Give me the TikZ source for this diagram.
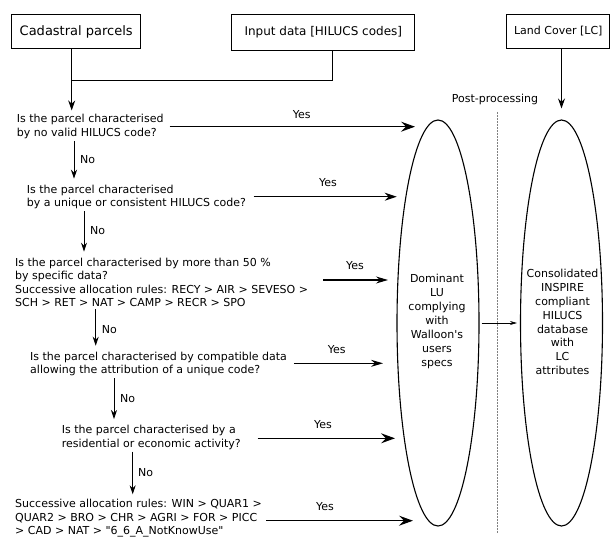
\documentclass[tikz,border=0pt]{standalone}
\usepackage{fontspec}
\setmainfont{DejaVu Sans}[Ligatures=TeXOff]
\usetikzlibrary{arrows.meta,shapes.geometric,calc}
\begin{document}
\begin{tikzpicture}[x=1pt,y=-1pt,
  every node/.style={font=\fontsize{11}{13.5}\selectfont, inner sep=0pt},
  box/.style={draw, line width=0.9pt, minimum height=34pt},
  quest/.style={anchor=west, align=left},
  lbl/.style={anchor=west},
  yesarr/.style={line width=1.3pt, -{Stealth[length=14pt,width=10pt,inset=5pt]}},
  noarr/.style={line width=0.9pt, -{Stealth[length=9pt,width=6pt]}},
  toparr/.style={line width=0.9pt, -{Stealth[length=10pt,width=7pt]}},
  oval/.style={ellipse, draw, line width=1.1pt, minimum width=82pt, minimum height=406pt},
  ovaltext/.style={align=center, font=\fontsize{11}{13.9}\selectfont}
]
\useasboundingbox (0,0) rectangle (612,537);

% top boxes
\node[box, minimum width=129pt, font=\fontsize{13}{15}\selectfont] (cad) at (76.2,31.5) {Cadastral parcels};
\node[box, minimum width=183pt, minimum height=36pt, font=\fontsize{12}{14}\selectfont] (inp) at (323.3,32) {Input data [HILUCS codes]};
\node[box, minimum width=103pt] (lc) at (558.3,31.3) {Land Cover [LC]};

% questions
\node[quest] (q1) at (16.7,126.7) {Is the parcel characterised\\by no valid HILUCS code?};
\node[quest] (q2) at (26.7,197) {Is the parcel characterised\\by a unique or consistent HILUCS code?};
\node[quest] (q3) at (15,282.3) {Is the parcel characterised by more than 50 \%\\by specific data?\\Successive allocation rules: RECY > AIR > SEVESO >\\SCH > RET > NAT > CAMP > RECR > SPO};
\node[quest] (q4) at (30,364) {Is the parcel characterised by compatible data\\allowing the attribution of a unique code?};
\node[quest] (q5) at (61.7,437.3) {Is the parcel characterised by a\\residential or economic activity?};
\node[quest] (q6) at (15,518.5) {Successive allocation rules: WIN > QUAR1 >\\QUAR2 > BRO > CHR > AGRI > FOR > PICC\\> CAD > NAT > "6\_6\_A\_NotKnowUse"};

% ovals
\node[oval] (lu) at (438,323) {};
\node[oval] (ins) at (561.5,323) {};
\node[ovaltext] (lut) at (437,321.5) {Dominant\\LU\\complying\\with\\Walloon's\\users\\specs};
\node[ovaltext] (inst) at (562.5,322) {Consolidated\\INSPIRE\\compliant\\HILUCS\\database\\with\\LC\\attributes};

\node (post) at (495,99.3) {Post-processing};
\draw[gray, line width=0.5pt, densely dotted] (497.3,112) -- (497.3,533);

% coordinates
\coordinate (cx) at (71.7,0);
\coordinate (jx) at (332.7,0);
\coordinate (join) at (71.7,80);
\coordinate (nx1) at (74,0);
\coordinate (nx2) at (84,0);
\coordinate (nx3) at (95.7,0);
\coordinate (nx4) at (114,0);
\coordinate (nx5) at (132.7,0);
\coordinate (t1) at (415,126.7);
\coordinate (t2) at (396.7,196.7);
\coordinate (t3) at (388,280);
\coordinate (t4) at (383,363.3);
\coordinate (t5) at (395,438.3);
\coordinate (t6) at (413,520.7);

% top connectors
\draw[toparr, shorten >=4pt] (cad.south -| cx) -- (q1.north -| cx);
\draw[line width=0.9pt] (inp.south -| jx) |- (join);
\draw[toparr, shorten >=11pt] (lc.south -| ins.north) -- (ins.north);

% no arrows
\draw[noarr, shorten <=2pt, shorten >=6pt] (q1.south -| nx1) -- (q2.north -| nx1);
\draw[noarr, shorten <=2pt, shorten >=6pt] (q2.south -| nx2) -- (q3.north -| nx2);
\draw[noarr, shorten <=2pt, shorten >=6pt] (q3.south -| nx3) -- (q4.north -| nx3);
\draw[noarr, shorten <=2pt, shorten >=6pt] (q4.south -| nx4) -- (q5.north -| nx4);
\draw[noarr, shorten <=2pt, shorten >=5pt] (q5.south -| nx5) -- (q6.north -| nx5);
\node[lbl] (n1) at (80,160) {No};
\node[lbl] (n2) at (90,231) {No};
\node[lbl] (n3) at (101.7,330) {No};
\node[lbl] (n4) at (120,398.3) {No};
\node[lbl] (n5) at (138,472.7) {No};

% yes arrows
\draw[yesarr] ($(q1.east |- t1)+(6,0)$) -- (t1);
\draw[yesarr, line width=1.1pt, -{Stealth[length=12pt,width=8pt,inset=4pt]}] ($(q2.east |- t2)+(7.6,0)$) -- (t2);
\draw[yesarr, line width=1.1pt, -{Stealth[length=12pt,width=7pt,inset=4pt]}] ($(q3.east |- t3)+(15,0)$) -- (t3);
\draw[yesarr, line width=1.1pt, -{Stealth[length=12pt,width=7pt,inset=4pt]}] ($(q4.east |- t4)+(6.7,0)$) -- (t4);
\draw[yesarr] ($(q5.east |- t5)+(16.7,0)$) -- (t5);
\draw[yesarr] ($(q6.east |- t6)+(4,0)$) -- (t6);
\node (y1) at (301.7,115) {Yes};
\node (y2) at (328,183) {Yes};
\node (y3) at (355,265.7) {Yes};
\node (y4) at (336.7,350) {Yes};
\node (y5) at (323,425) {Yes};
\node (y6) at (325,506.7) {Yes};

% between ovals
\draw[line width=0.6pt, -{Stealth[length=7pt,width=4pt]}, shorten <=2pt, shorten >=3pt] (lu.east) -- (ins.west);
\end{tikzpicture}
\end{document}
